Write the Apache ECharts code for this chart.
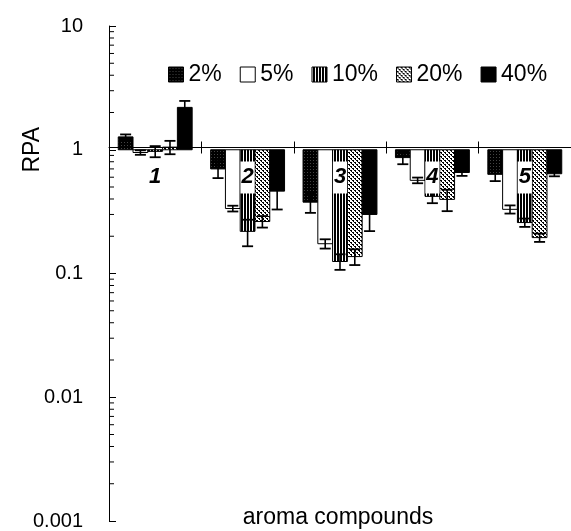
<!DOCTYPE html>
<html><head><meta charset="utf-8">
<script src="https://cdn.jsdelivr.net/npm/echarts@6/dist/echarts.min.js"></script>
<style>html,body{margin:0;padding:0;background:#fff}#c{width:571px;height:531px}</style>
</head><body><div id="c"></div>
<script>
// ---- data ----
const categories = ['1', '2', '3', '4', '5'];
const seriesNames = ['2%', '5%', '10%', '20%', '40%'];
const rpa2  = [1.27, 0.70, 0.377, 0.864, 0.633];
const err2  = [0.06, 0.11, 0.068, 0.10, 0.075];
const rpa5  = [0.95, 0.335, 0.174, 0.566, 0.33];
const err5  = [0.04, 0.018, 0.015, 0.03, 0.025];
const rpa10 = [0.97, 0.219, 0.125, 0.42, 0.258];
const err10 = [0.10, 0.053, 0.018, 0.05, 0.02];
const rpa20 = [1.05, 0.263, 0.137, 0.397, 0.195];
const err20 = [0.13, 0.028, 0.02, 0.078, 0.015];
const rpa40 = [2.2, 0.463, 0.30, 0.655, 0.64];
const err40 = [0.28, 0.134, 0.08, 0.04, 0.03];
const yTickLabels = ['0.001', '0.01', '0.1', '1', '10'];
const yMinorTicks = [
  0.002, 0.003, 0.004, 0.005, 0.006, 0.007, 0.008, 0.009,
  0.02, 0.03, 0.04, 0.05, 0.06, 0.07, 0.08, 0.09,
  0.2, 0.3, 0.4, 0.5, 0.6, 0.7, 0.8, 0.9,
  2, 3, 4, 5, 6, 7, 8, 9
];

const values = [rpa2, rpa5, rpa10, rpa20, rpa40];
const errors = [err2, err5, err10, err20, err40];

const FONT = 'Liberation Sans, Arial, Helvetica, sans-serif';

function makePattern(w, h, draw) {
  const c = document.createElement('canvas');
  c.width = w; c.height = h;
  const g = c.getContext('2d');
  draw(g);
  return { image: c, repeat: 'repeat' };
}
const fills = [
  makePattern(3, 3, g => { g.fillStyle = '#000'; g.fillRect(0, 0, 3, 3); g.fillStyle = '#444'; g.fillRect(1, 1, 1, 1); }),
  '#ffffff',
  makePattern(3, 1, g => { g.fillStyle = '#000'; g.fillRect(0, 0, 3, 1); g.fillStyle = '#fff'; g.fillRect(0, 0, 1, 1); }),
  makePattern(4, 4, g => {
    g.fillStyle = '#fff'; g.fillRect(0, 0, 4, 4);
    g.fillStyle = '#000';
    [[0,0],[1,0],[2,2],[3,2],[1,1],[3,3]].forEach(p => g.fillRect(p[0], p[1], 1, 1));
  }),
  '#000000'
];

function makeRenderer(k) {
  return function (params, api) {
    const ci = api.value(0), v = api.value(1), e = api.value(2);
    const c0 = api.coord([0, 1]), c1 = api.coord([1, 1]);
    const band = c1[0] - c0[0];
    const bw = band * 0.16;
    const base = api.coord([ci, 1]);
    const tip = api.coord([ci, v]);
    const x = base[0] - 2.5 * bw + k * bw;
    const y0 = Math.min(base[1], tip[1]), y1 = Math.max(base[1], tip[1]);
    const cx = x + bw / 2;
    const hi = api.coord([ci, v + e])[1];
    const lo = api.coord([ci, Math.max(v - e, 0.0011)])[1];
    const cap = 5.5;
    return {
      type: 'group',
      children: [
        { type: 'rect', shape: { x: x, y: y0, width: bw, height: y1 - y0 },
          style: { fill: fills[k], stroke: '#000', lineWidth: 1 } },
        { type: 'line', shape: { x1: cx, y1: hi, x2: cx, y2: lo }, style: { stroke: '#000', lineWidth: 1.6 } },
        { type: 'line', shape: { x1: cx - cap, y1: hi, x2: cx + cap, y2: hi }, style: { stroke: '#000', lineWidth: 1.8 } },
        { type: 'line', shape: { x1: cx - cap, y1: lo, x2: cx + cap, y2: lo }, style: { stroke: '#000', lineWidth: 1.8 } }
      ]
    };
  };
}

function minorTickRenderer(params, api) {
  const p = api.coord([0, api.value(1)]);
  const x = params.coordSys.x;
  return { type: 'line', shape: { x1: x, y1: p[1], x2: x + 5, y2: p[1] },
           style: { stroke: '#000', lineWidth: 1 } };
}

const GRID = { left: 109, top: 26, width: 470, height: 498 };
const lineOffset = -GRID.height * 3 / 4; // position of value 1 on the log axis (10^-3 .. 10^1)

const chart = echarts.init(document.getElementById('c'), null, { renderer: 'canvas' });
chart.setOption({
  backgroundColor: '#fff',
  animation: false,
  textStyle: { fontFamily: FONT },
  grid: GRID,
  legend: {
    data: seriesNames.map((n, k) => ({ name: n, icon: 'rect',
      itemStyle: { color: fills[k], borderColor: '#000', borderWidth: 1 } })),
    left: 163, top: 58, itemWidth: 15, itemHeight: 15, itemGap: 18,
    selectedMode: false,
    textStyle: { fontSize: 23, color: '#000', fontFamily: FONT }
  },
  xAxis: [
    {
      type: 'category', data: categories, position: 'bottom', offset: lineOffset, z: 10,
      axisLine: { show: true, onZero: false, lineStyle: { color: '#000', width: 1 } },
      axisTick: { show: true, inside: true, length: 6, lineStyle: { color: '#000' } },
      axisLabel: {
        show: true, margin: 14, fontSize: 22, fontWeight: 'bold', fontStyle: 'italic',
        color: '#000', backgroundColor: '#fff', padding: [4, 1, 6, 1], fontFamily: FONT
      },
      splitLine: { show: false }
    },
    {
      type: 'category', data: categories, position: 'bottom', offset: lineOffset, z: 10,
      axisLine: { show: false, onZero: false },
      axisTick: { show: true, inside: false, length: 6, lineStyle: { color: '#000' } },
      axisLabel: { show: false },
      splitLine: { show: false }
    }
  ],
  yAxis: {
    type: 'log', logBase: 10, min: 0.001, max: 10,
    axisLine: { show: true, lineStyle: { color: '#000', width: 1 } },
    axisTick: { show: true, inside: true, length: 7, lineStyle: { color: '#000' } },
    axisLabel: {
      margin: 26, fontSize: 20, color: '#000', fontFamily: FONT,
      formatter: (v, i) => yTickLabels[i] !== undefined ? yTickLabels[i] : String(v)
    },
    splitLine: { show: false }
  },
  graphic: [
    { type: 'text', left: 21, top: 127, rotation: Math.PI / 2,
      style: { text: 'RPA', fontSize: 23, fill: '#000', fontFamily: FONT } },
    { type: 'text', x: 338, y: 518,
      style: { text: 'aroma compounds', fontSize: 23, fill: '#000', fontFamily: FONT,
               align: 'center', verticalAlign: 'middle' } }
  ],
  series: seriesNames.map((n, k) => ({
    type: 'custom', name: n, xAxisIndex: 0, yAxisIndex: 0, z: 2,
    renderItem: makeRenderer(k),
    itemStyle: { color: fills[k], borderColor: '#000', borderWidth: 1 },
    encode: { x: 0, y: 1 },
    data: values[k].map((v, i) => [i, v, errors[k][i]])
  })).concat([{
    type: 'custom', name: 'minor ticks', xAxisIndex: 0, yAxisIndex: 0, z: 3,
    silent: true, renderItem: minorTickRenderer,
    encode: { x: 0, y: 1 },
    data: yMinorTicks.map(v => [0, v])
  }])
});
</script></body></html>
